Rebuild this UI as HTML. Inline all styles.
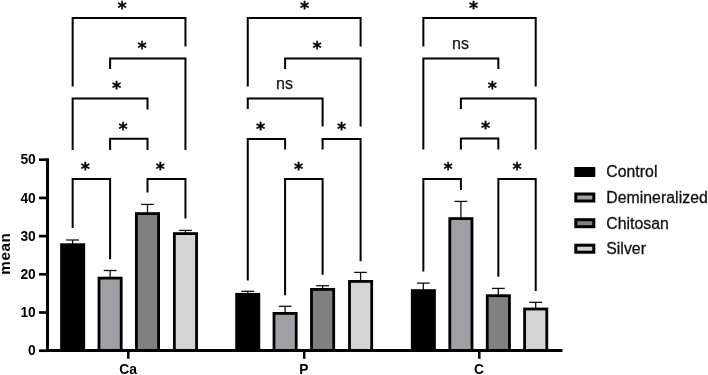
<!DOCTYPE html>
<html><head><meta charset="utf-8"><style>
html,body{margin:0;padding:0;background:#fff;}
svg{display:block;}
.tk{font-family:"Liberation Sans",sans-serif;font-weight:bold;font-size:13.8px;fill:#000;}
.ttl{font-family:"Liberation Sans",sans-serif;font-weight:bold;font-size:15.2px;letter-spacing:0.6px;fill:#000;}
.lg{font-family:"Liberation Sans",sans-serif;font-size:15.8px;letter-spacing:0.05px;fill:#111;stroke:#111;stroke-width:0.3px;}
.ns{font-family:"Liberation Sans",sans-serif;font-size:16px;fill:#111;stroke:#111;stroke-width:0.25px;}
.st{font-family:"DejaVu Sans",sans-serif;font-weight:bold;font-size:17.5px;fill:#000;stroke:#000;stroke-width:0.3px;}
</style></head><body>
<svg width="708" height="375" viewBox="0 0 708 375">
<rect width="708" height="375" fill="#fff"/>
<line x1="47.5" y1="158.3" x2="47.5" y2="351.7" stroke="#000" stroke-width="3"/>
<line x1="46" y1="350.4" x2="562.5" y2="350.4" stroke="#000" stroke-width="3"/>
<line x1="39" y1="350.70" x2="47" y2="350.70" stroke="#000" stroke-width="2.7"/>
<text x="35.8" y="355.30" class="tk" text-anchor="end">0</text>
<line x1="39" y1="312.50" x2="47" y2="312.50" stroke="#000" stroke-width="2.7"/>
<text x="35.8" y="317.10" class="tk" text-anchor="end">10</text>
<line x1="39" y1="274.30" x2="47" y2="274.30" stroke="#000" stroke-width="2.7"/>
<text x="35.8" y="278.90" class="tk" text-anchor="end">20</text>
<line x1="39" y1="236.10" x2="47" y2="236.10" stroke="#000" stroke-width="2.7"/>
<text x="35.8" y="240.70" class="tk" text-anchor="end">30</text>
<line x1="39" y1="197.90" x2="47" y2="197.90" stroke="#000" stroke-width="2.7"/>
<text x="35.8" y="202.50" class="tk" text-anchor="end">40</text>
<line x1="39" y1="159.70" x2="47" y2="159.70" stroke="#000" stroke-width="2.7"/>
<text x="35.8" y="164.30" class="tk" text-anchor="end">50</text>
<line x1="128.3" y1="350.4" x2="128.3" y2="358.8" stroke="#000" stroke-width="2.5"/>
<text x="128.0" y="373.6" class="tk" text-anchor="middle">Ca</text>
<line x1="304.2" y1="350.4" x2="304.2" y2="358.8" stroke="#000" stroke-width="2.5"/>
<text x="303.9" y="373.6" class="tk" text-anchor="middle">P</text>
<line x1="479.3" y1="350.4" x2="479.3" y2="358.8" stroke="#000" stroke-width="2.5"/>
<text x="479.0" y="373.6" class="tk" text-anchor="middle">C</text>
<text transform="translate(10.4,253.6) rotate(-90)" class="ttl" text-anchor="middle">mean</text>
<line x1="72.65" y1="240.00" x2="72.65" y2="244.30" stroke="#111" stroke-width="1.3"/>
<line x1="66.25" y1="240.00" x2="79.05" y2="240.00" stroke="#111" stroke-width="1.3"/>
<rect x="61.55" y="244.70" width="22.20" height="105.70" fill="#000000" stroke="#000" stroke-width="2.8"/>
<line x1="110.10" y1="270.50" x2="110.10" y2="277.70" stroke="#111" stroke-width="1.3"/>
<line x1="103.70" y1="270.50" x2="116.50" y2="270.50" stroke="#111" stroke-width="1.3"/>
<rect x="99.00" y="278.10" width="22.20" height="72.30" fill="#a0a0a4" stroke="#000" stroke-width="2.8"/>
<line x1="147.50" y1="204.40" x2="147.50" y2="213.20" stroke="#111" stroke-width="1.3"/>
<line x1="141.10" y1="204.40" x2="153.90" y2="204.40" stroke="#111" stroke-width="1.3"/>
<rect x="136.40" y="213.60" width="22.20" height="136.80" fill="#808080" stroke="#000" stroke-width="2.8"/>
<line x1="185.45" y1="230.40" x2="185.45" y2="233.20" stroke="#111" stroke-width="1.3"/>
<line x1="179.05" y1="230.40" x2="191.85" y2="230.40" stroke="#111" stroke-width="1.3"/>
<rect x="174.35" y="233.60" width="22.20" height="116.80" fill="#d4d4d4" stroke="#000" stroke-width="2.8"/>
<line x1="247.75" y1="291.30" x2="247.75" y2="293.90" stroke="#111" stroke-width="1.3"/>
<line x1="241.35" y1="291.30" x2="254.15" y2="291.30" stroke="#111" stroke-width="1.3"/>
<rect x="236.65" y="294.30" width="22.20" height="56.10" fill="#000000" stroke="#000" stroke-width="2.8"/>
<line x1="285.10" y1="306.30" x2="285.10" y2="313.00" stroke="#111" stroke-width="1.3"/>
<line x1="278.70" y1="306.30" x2="291.50" y2="306.30" stroke="#111" stroke-width="1.3"/>
<rect x="274.00" y="313.40" width="22.20" height="37.00" fill="#a0a0a4" stroke="#000" stroke-width="2.8"/>
<line x1="322.60" y1="285.70" x2="322.60" y2="289.00" stroke="#111" stroke-width="1.3"/>
<line x1="316.20" y1="285.70" x2="329.00" y2="285.70" stroke="#111" stroke-width="1.3"/>
<rect x="311.50" y="289.40" width="22.20" height="61.00" fill="#808080" stroke="#000" stroke-width="2.8"/>
<line x1="360.60" y1="272.40" x2="360.60" y2="281.00" stroke="#111" stroke-width="1.3"/>
<line x1="354.20" y1="272.40" x2="367.00" y2="272.40" stroke="#111" stroke-width="1.3"/>
<rect x="349.50" y="281.40" width="22.20" height="69.00" fill="#d4d4d4" stroke="#000" stroke-width="2.8"/>
<line x1="423.35" y1="283.10" x2="423.35" y2="290.20" stroke="#111" stroke-width="1.3"/>
<line x1="416.95" y1="283.10" x2="429.75" y2="283.10" stroke="#111" stroke-width="1.3"/>
<rect x="412.25" y="290.60" width="22.20" height="59.80" fill="#000000" stroke="#000" stroke-width="2.8"/>
<line x1="460.90" y1="201.40" x2="460.90" y2="218.20" stroke="#111" stroke-width="1.3"/>
<line x1="454.50" y1="201.40" x2="467.30" y2="201.40" stroke="#111" stroke-width="1.3"/>
<rect x="449.80" y="218.60" width="22.20" height="131.80" fill="#a0a0a4" stroke="#000" stroke-width="2.8"/>
<line x1="498.35" y1="288.40" x2="498.35" y2="295.30" stroke="#111" stroke-width="1.3"/>
<line x1="491.95" y1="288.40" x2="504.75" y2="288.40" stroke="#111" stroke-width="1.3"/>
<rect x="487.25" y="295.70" width="22.20" height="54.70" fill="#808080" stroke="#000" stroke-width="2.8"/>
<line x1="535.70" y1="302.30" x2="535.70" y2="308.60" stroke="#111" stroke-width="1.3"/>
<line x1="529.30" y1="302.30" x2="542.10" y2="302.30" stroke="#111" stroke-width="1.3"/>
<rect x="524.60" y="309.00" width="22.20" height="41.40" fill="#d4d4d4" stroke="#000" stroke-width="2.8"/>
<polyline points="72.65,86.4 72.65,18.1 185.45,18.1 185.45,46.4" fill="none" stroke="#000" stroke-width="2" stroke-linejoin="miter"/>
<text x="122.2" y="13.80" class="st" text-anchor="middle">*</text>
<polyline points="110.10,69.0 110.10,58.4 185.45,58.4 185.45,150.0" fill="none" stroke="#000" stroke-width="2" stroke-linejoin="miter"/>
<text x="142.0" y="54.10" class="st" text-anchor="middle">*</text>
<polyline points="72.65,150.0 72.65,98.6 147.50,98.6 147.50,109.4" fill="none" stroke="#000" stroke-width="2" stroke-linejoin="miter"/>
<text x="116.6" y="94.30" class="st" text-anchor="middle">*</text>
<polyline points="110.10,150.0 110.10,138.8 147.50,138.8 147.50,150.0" fill="none" stroke="#000" stroke-width="2" stroke-linejoin="miter"/>
<text x="123.0" y="134.50" class="st" text-anchor="middle">*</text>
<polyline points="72.65,228.0 72.65,179.0 110.10,179.0 110.10,259.2" fill="none" stroke="#000" stroke-width="2" stroke-linejoin="miter"/>
<text x="85.3" y="174.70" class="st" text-anchor="middle">*</text>
<polyline points="147.50,192.6 147.50,179.0 185.45,179.0 185.45,218.6" fill="none" stroke="#000" stroke-width="2" stroke-linejoin="miter"/>
<text x="160.4" y="174.70" class="st" text-anchor="middle">*</text>
<polyline points="247.75,86.4 247.75,18.1 360.60,18.1 360.60,46.4" fill="none" stroke="#000" stroke-width="2" stroke-linejoin="miter"/>
<text x="304.5" y="13.80" class="st" text-anchor="middle">*</text>
<polyline points="285.10,69.0 285.10,58.4 360.60,58.4 360.60,126.6" fill="none" stroke="#000" stroke-width="2" stroke-linejoin="miter"/>
<text x="317.0" y="54.10" class="st" text-anchor="middle">*</text>
<polyline points="247.75,109.0 247.75,98.4 322.60,98.4 322.60,126.6" fill="none" stroke="#000" stroke-width="2" stroke-linejoin="miter"/>
<text x="284.5" y="89.40" class="ns" text-anchor="middle">ns</text>
<polyline points="247.75,280.4 247.75,139.0 285.10,139.0 285.10,149.6" fill="none" stroke="#000" stroke-width="2" stroke-linejoin="miter"/>
<text x="260.6" y="134.70" class="st" text-anchor="middle">*</text>
<polyline points="322.60,149.6 322.60,139.0 360.60,139.0 360.60,261.3" fill="none" stroke="#000" stroke-width="2" stroke-linejoin="miter"/>
<text x="341.6" y="134.70" class="st" text-anchor="middle">*</text>
<polyline points="285.10,295.3 285.10,179.0 322.60,179.0 322.60,274.7" fill="none" stroke="#000" stroke-width="2" stroke-linejoin="miter"/>
<text x="298.6" y="174.70" class="st" text-anchor="middle">*</text>
<polyline points="423.35,46.4 423.35,18.1 535.70,18.1 535.70,86.4" fill="none" stroke="#000" stroke-width="2" stroke-linejoin="miter"/>
<text x="473.6" y="13.80" class="st" text-anchor="middle">*</text>
<polyline points="423.35,149.6 423.35,58.4 498.35,58.4 498.35,69.0" fill="none" stroke="#000" stroke-width="2" stroke-linejoin="miter"/>
<text x="460.5" y="49.40" class="ns" text-anchor="middle">ns</text>
<polyline points="460.90,109.0 460.90,98.4 535.70,98.4 535.70,149.6" fill="none" stroke="#000" stroke-width="2" stroke-linejoin="miter"/>
<text x="492.4" y="94.10" class="st" text-anchor="middle">*</text>
<polyline points="460.90,149.6 460.90,138.6 498.35,138.6 498.35,149.6" fill="none" stroke="#000" stroke-width="2" stroke-linejoin="miter"/>
<text x="485.6" y="134.30" class="st" text-anchor="middle">*</text>
<polyline points="423.35,271.6 423.35,179.0 460.90,179.0 460.90,190.0" fill="none" stroke="#000" stroke-width="2" stroke-linejoin="miter"/>
<text x="448.0" y="174.70" class="st" text-anchor="middle">*</text>
<polyline points="498.35,276.7 498.35,179.0 535.70,179.0 535.70,291.0" fill="none" stroke="#000" stroke-width="2" stroke-linejoin="miter"/>
<text x="517.0" y="174.70" class="st" text-anchor="middle">*</text>
<rect x="574.3" y="167.0" width="21" height="10" fill="#000"/>
<text x="606.2" y="177.30" class="lg">Control</text>
<rect x="575.8" y="194.0" width="18" height="7" fill="#a0a0a4" stroke="#000" stroke-width="3"/>
<text x="606.2" y="202.80" class="lg">Demineralized</text>
<rect x="575.8" y="219.7" width="18" height="7" fill="#808080" stroke="#000" stroke-width="3"/>
<text x="606.2" y="228.50" class="lg">Chitosan</text>
<rect x="575.8" y="245.2" width="18" height="7" fill="#d4d4d4" stroke="#000" stroke-width="3"/>
<text x="606.2" y="254.00" class="lg">Silver</text>
</svg>
</body></html>
